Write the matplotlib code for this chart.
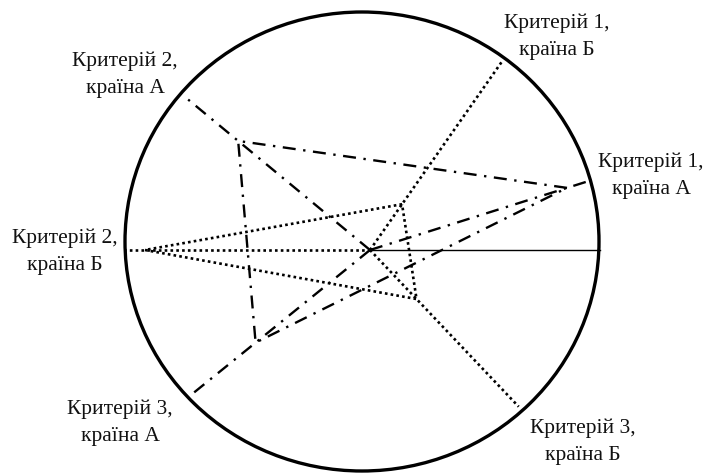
"""Radar-style comparison of two countries on three criteria (circle diagram)."""

import numpy as np
import matplotlib
import matplotlib.pyplot as plt
from matplotlib.patches import Ellipse

matplotlib.use("Agg")

# ── Data ───────────────────────────────────────────────────────────────
criteria = ["Критерій 1", "Критерій 2", "Критерій 3"]
countries = ["країна А", "країна Б"]

# axis directions (degrees) and axis lengths for each country
angles_a = [17.5, 140.4, 219.0]
angles_b = [55.0, 180.0, -46.5]
lengths_a = [227, 236, 230]
lengths_b = [231, 246, 216]

# criterion values as a share of the axis length
values_a = [0.91, 0.725, 0.64]
values_b = [0.242, 0.915, 0.313]

# label anchor points (centre of the two-line label)
label_pos_a = [(651, 176), (125, 75), (120, 423)]
label_pos_b = [(557, 37), (65, 252), (583, 442)]

CENTER = (370, 250)

DASHDOT = (0, (5.5, 3.2, 1.0, 3.2))
DOTTED = (0, (1.0, 1.2))


def _point(angle, length, frac=1.0):
    a = np.deg2rad(angle)
    return (CENTER[0] + frac * length * np.cos(a),
            CENTER[1] - frac * length * np.sin(a))


def draw_country(ax, angles, lengths, values, style, lw):
    ends = [_point(a, l) for a, l in zip(angles, lengths)]
    verts = [_point(a, l, v) for a, l, v in zip(angles, lengths, values)]
    for x, y in ends:
        ax.plot([CENTER[0], x], [CENTER[1], y], color="black",
                linestyle=style, linewidth=lw)
    xs = [p[0] for p in verts] + [verts[0][0]]
    ys = [p[1] for p in verts] + [verts[0][1]]
    ax.plot(xs, ys, color="black", linestyle=style, linewidth=lw)


fig = plt.figure(figsize=(7.07, 4.73), dpi=100)
ax = fig.add_axes([0, 0, 1, 1])
ax.set_xlim(0, 707)
ax.set_ylim(473, 0)
ax.axis("off")

ax.add_patch(Ellipse((362, 241.5), 474, 459, fill=False,
                     edgecolor="black", linewidth=2.4))

# reference line from the centre to the right edge
ax.plot([CENTER[0], 600], [CENTER[1], CENTER[1]], color="black",
        linewidth=1.0)

draw_country(ax, angles_a, lengths_a, values_a, DASHDOT, 1.7)
draw_country(ax, angles_b, lengths_b, values_b, DOTTED, 1.9)

for crit, pos in zip(criteria, label_pos_a):
    ax.text(pos[0], pos[1], f"{crit},\n{countries[0]}", ha="center",
            va="center", fontsize=15.5, family="Liberation Serif",
            linespacing=1.55, color="#111111")
for crit, pos in zip(criteria, label_pos_b):
    ax.text(pos[0], pos[1], f"{crit},\n{countries[1]}", ha="center",
            va="center", fontsize=15.5, family="Liberation Serif",
            linespacing=1.55, color="#111111")

fig.savefig("out.png", dpi=100)
